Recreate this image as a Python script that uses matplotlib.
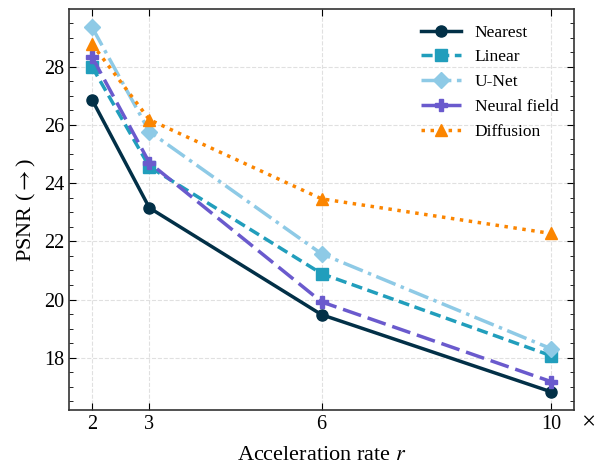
import matplotlib
matplotlib.use("Agg")
import matplotlib.pyplot as plt
from matplotlib.ticker import MultipleLocator

rates = [2, 3, 6, 10]
nearest = [26.87, 23.15, 19.48, 16.83]
linear = [28.0, 24.56, 20.89, 18.07]
unet = [29.36, 25.77, 21.57, 18.31]
neural_field = [28.34, 24.7, 19.92, 17.18]
diffusion = [28.78, 26.18, 23.46, 22.27]

plt.rcParams["font.family"] = ["Liberation Serif", "DejaVu Serif"]
plt.rcParams["mathtext.fontset"] = "stix"
plt.rcParams["font.size"] = 14

fig = plt.figure(figsize=(5.95, 4.66), dpi=100)
ax = fig.add_axes([0.116, 0.12, 0.849, 0.861])

lw = 2.5
ms = 8
ax.plot(rates, nearest, color="#023047", ls="-", marker="o", lw=lw, ms=ms, label="Nearest")
ax.plot(rates, linear, color="#219ebc", ls=(0, (3.2, 1.6)), marker="s", lw=lw, ms=ms, label="Linear")
ax.plot(rates, unet, color="#8ecae6", ls=(0, (6, 1.6, 1, 1.6)), marker="D", lw=lw, ms=ms, label="U-Net")
ax.plot(rates, neural_field, color="#6a5acd", ls=(0, (5.5, 2)), marker="P", lw=lw, ms=ms + 1, label="Neural field")
ax.plot(rates, diffusion, color="#fb8500", ls=(0, (1, 1.6)), marker="^", lw=lw, ms=ms + 1, label="Diffusion")

ax.set_xticks(rates)
ax.yaxis.set_minor_locator(MultipleLocator(0.5))
ax.tick_params(which="both", direction="in", top=True, right=True, labelsize=14.5)
ax.tick_params(which="major", length=5)
ax.tick_params(which="minor", length=3)
ax.grid(True, ls="--", color="#e0e0e0", lw=0.8)
ax.set_axisbelow(True)
for s in ax.spines.values():
    s.set_linewidth(1.2)
    s.set_color("#333333")

ax.set_xlabel("Acceleration rate $r$", fontsize=16, labelpad=9)
ax.set_ylabel("PSNR ($\\rightarrow$)", fontsize=16)
# multiplier sign next to the last x tick
ax.text(1.027, -0.032, "×", transform=ax.transAxes, fontsize=18, ha="center", va="center")

ax.legend(loc="upper right", frameon=False, fontsize=12.5, handlelength=2.3)

fig.savefig("out.png", dpi=100)
